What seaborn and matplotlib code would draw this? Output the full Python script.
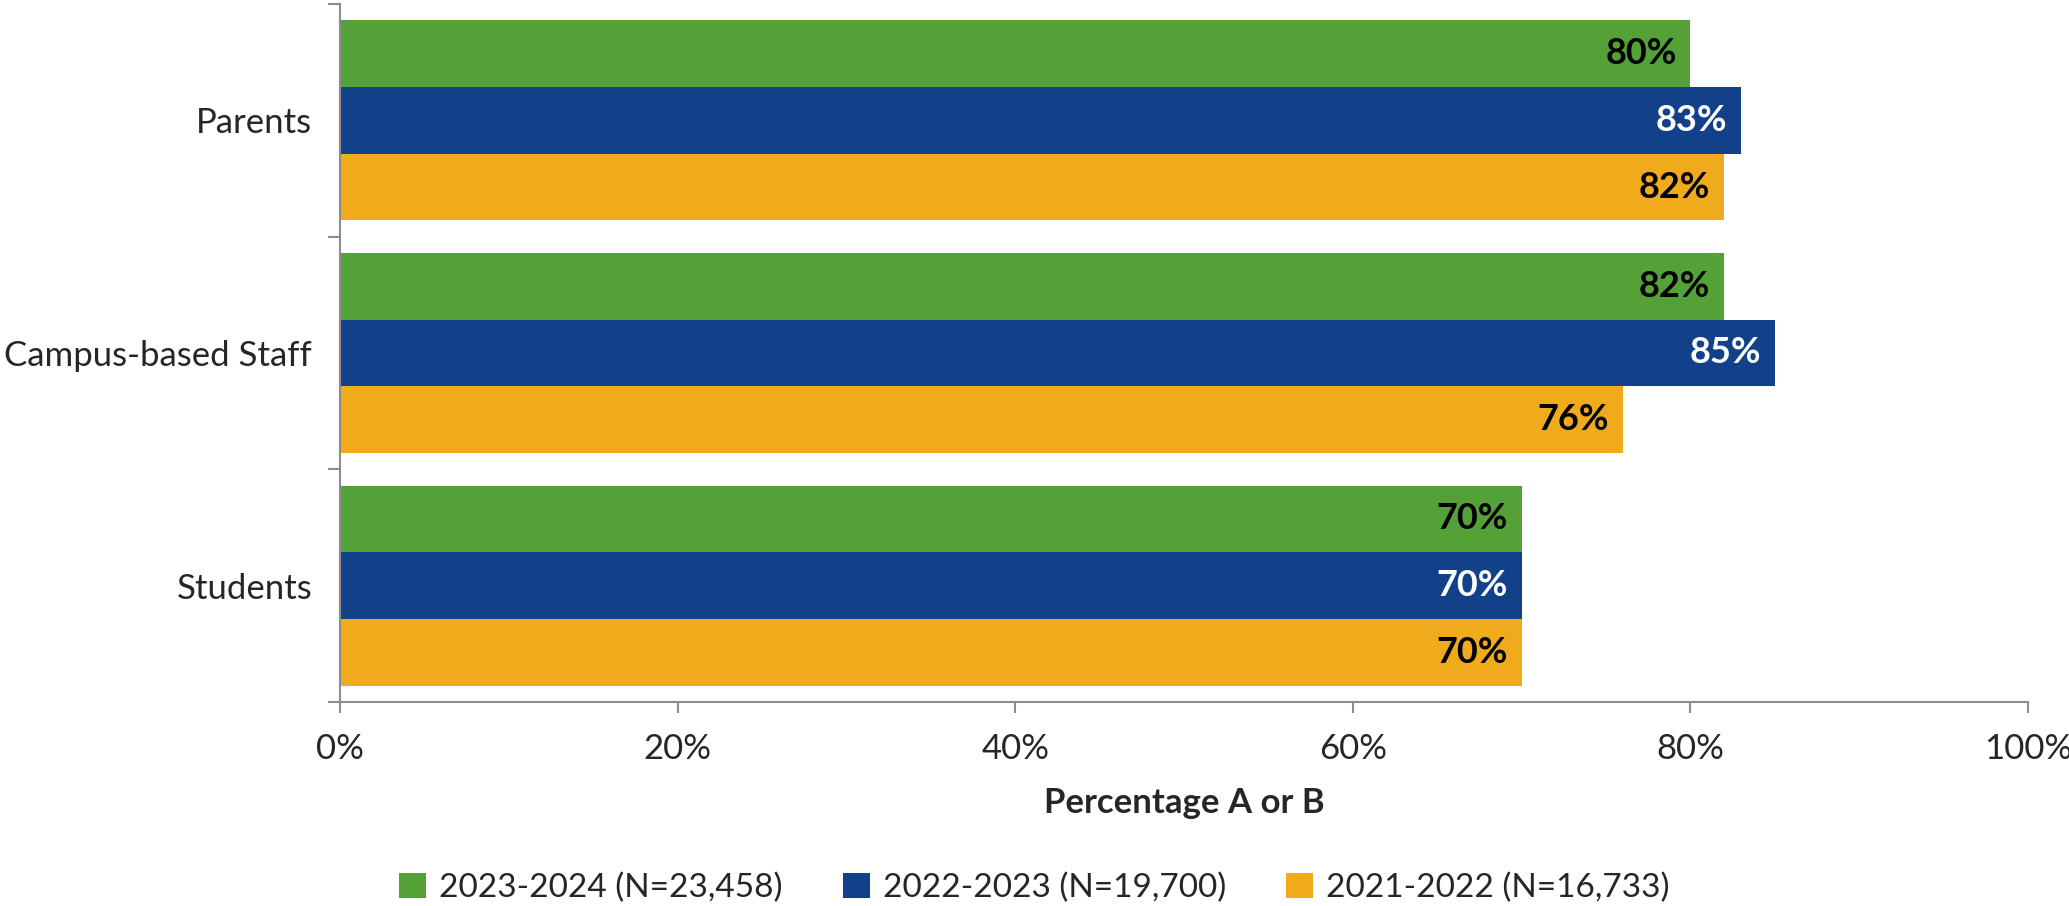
import seaborn as sns
import matplotlib.pyplot as plt
import pandas as pd
from matplotlib.ticker import FixedLocator, FuncFormatter

groups = ["Parents", "Campus-based Staff", "Students"]
years = ["2023-2024 (N=23,458)", "2022-2023 (N=19,700)", "2021-2022 (N=16,733)"]
pct_2324 = [80, 82, 70]
pct_2223 = [83, 85, 70]
pct_2122 = [82, 76, 70]
colors = ["#54A138", "#134189", "#F0AB1D"]
label_colors = ["black", "white", "black"]

rows = []
for year, vals in zip(years, [pct_2324, pct_2223, pct_2122]):
    for g, v in zip(groups, vals):
        rows.append({"Group": g, "Year": year, "Pct": v})
df = pd.DataFrame(rows)

sns.set_theme(style="white")
plt.rcParams['font.family'] = ['Lato', 'DejaVu Sans']
FS = 25

fig = plt.figure(figsize=(20.69, 9.06), dpi=100)
ax = fig.add_axes([0.1643, 0.2252, 0.8159, 0.7704])

sns.barplot(data=df, y="Group", x="Pct", hue="Year", order=groups, hue_order=years,
            palette=colors, width=0.86, orient="h", errorbar=None, saturation=1,
            linewidth=0, ax=ax)

for cont, lc in zip(ax.containers, label_colors):
    ax.bar_label(cont, labels=[f"{int(v)}%" for v in cont.datavalues], padding=-10,
                 label_type="edge", color=lc, fontsize=FS + 1, fontweight="bold")
    for t in ax.texts[-len(cont):]:
        t.set_ha("right")

ax.set_xlim(0, 100)
ax.set_ylim(2.5, -0.5)
ax.xaxis.set_major_locator(FixedLocator([0, 20, 40, 60, 80, 100]))
ax.xaxis.set_major_formatter(FuncFormatter(lambda v, p: f"{int(v)}%"))
ax.yaxis.set_minor_locator(FixedLocator([-0.5, 0.5, 1.5, 2.5]))
ax.tick_params(axis="y", which="major", length=0, pad=20, labelsize=FS)
ax.tick_params(axis="y", which="minor", length=9, width=1.5, color="#8c8c8c", direction="out", left=True)
ax.tick_params(axis="x", which="major", length=8, width=1.5, color="#8c8c8c", direction="out",
               bottom=True, pad=14, labelsize=FS)

for s in ["top", "right"]:
    ax.spines[s].set_visible(False)
for s in ["left", "bottom"]:
    ax.spines[s].set_color("#8c8c8c")
    ax.spines[s].set_linewidth(1.5)

ax.set_ylabel("")
ax.set_xlabel("Percentage A or B", fontsize=FS, fontweight="bold", labelpad=16)

handles, labels = ax.get_legend_handles_labels()
ax.legend_.remove()
fig.legend(handles, labels, loc="center", bbox_to_anchor=(0.5, 0.02), ncol=3, frameon=False,
           fontsize=FS - 1, handlelength=0.8, handleheight=0.8, handletextpad=0.4, columnspacing=1.8)

fig.savefig("out.png", dpi=100)
